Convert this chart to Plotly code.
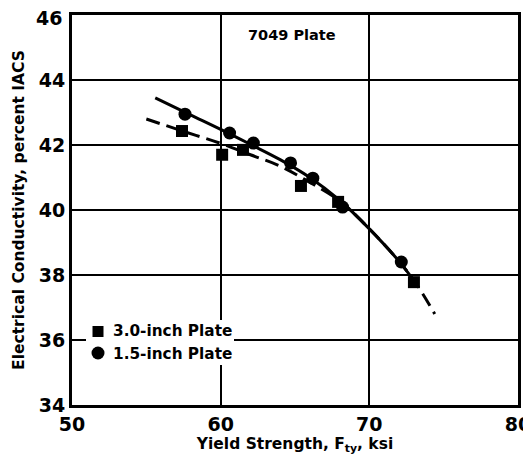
import plotly.graph_objects as go

# Data
sq_x = [57.4, 60.1, 61.5, 65.4, 67.9, 73.0]
sq_y = [42.43, 41.70, 41.85, 40.74, 40.25, 37.78]
ci_x = [57.6, 60.6, 62.2, 64.7, 66.2, 68.2, 72.15]
ci_y = [42.95, 42.37, 42.06, 41.45, 40.98, 40.09, 38.40]

solid_x = [55.6, 58.0, 60.0, 62.0, 64.0, 66.0, 68.0, 70.0, 72.0, 73.2]
solid_y = [43.45, 42.92, 42.48, 42.02, 41.55, 41.00, 40.30, 39.42, 38.42, 37.70]
dash_x = [55.0, 57.5, 60.0, 62.0, 64.0, 66.0, 68.0, 70.0, 72.0, 73.2, 74.4]
dash_y = [42.80, 42.42, 42.05, 41.70, 41.35, 40.85, 40.28, 39.42, 38.42, 37.70, 36.80]

x_ticks = [50, 60, 70, 80]
y_ticks = [34, 36, 38, 40, 42, 44, 46]
legend_names = ["3.0-inch Plate", "1.5-inch Plate"]

FONT = "DejaVu Sans"

# page body has an 8px margin, so the figure is sized to fit the window after it
OFF = 8
W, H = 531 - OFF, 456 - OFF
L, T = 72 - OFF, 15 - OFF
R = W - (518 - OFF)
B = H - (405 - OFF)
pw, ph = W - L - R, H - T - B
def px(xs):  # screen pixel -> paper
    return (xs - OFF - L) / pw
def py(ys):
    return (H - B - (ys - OFF)) / ph

fig = go.Figure()
fig.add_trace(go.Scatter(x=dash_x, y=dash_y, mode="lines", line=dict(color="black", width=3, dash="14px,7px", shape="spline"), showlegend=False))
fig.add_trace(go.Scatter(x=solid_x, y=solid_y, mode="lines", line=dict(color="black", width=3, shape="spline"), showlegend=False))
fig.add_trace(go.Scatter(x=sq_x, y=sq_y, mode="markers", name=legend_names[0], showlegend=False,
                         marker=dict(symbol="square", size=12, color="black")))
fig.add_trace(go.Scatter(x=ci_x, y=ci_y, mode="markers", name=legend_names[1], showlegend=False,
                         marker=dict(symbol="circle", size=13, color="black")))

fig.add_annotation(x=64.8, y=45.38, text="<b>7049 Plate</b>", showarrow=False,
                   font=dict(family=FONT, size=14.5, color="black"))

# Legend: white patch over the grid, markers and labels
fig.add_shape(type="rect", xref="paper", yref="paper", x0=px(86), x1=px(234), y0=py(365), y1=py(320),
              fillcolor="white", line=dict(width=0), layer="above")
fig.add_shape(type="rect", xref="paper", yref="paper", x0=px(92.5), x1=px(103.5), y0=py(337), y1=py(326),
              fillcolor="black", line=dict(width=0), layer="above")
fig.add_shape(type="circle", xref="paper", yref="paper", x0=px(91.5), x1=px(104.5), y0=py(359.5), y1=py(346.5),
              fillcolor="black", line=dict(width=0), layer="above")
for name, ys in zip(legend_names, [331, 354]):
    fig.add_annotation(xref="paper", yref="paper", x=px(111), y=py(ys), xanchor="left", yanchor="middle",
                       text=f"<b>{name}</b>", showarrow=False, font=dict(family=FONT, size=15.3, color="black"))

axis_common = dict(showline=True, linecolor="black", linewidth=3, mirror=True,
                   showgrid=True, gridcolor="black", gridwidth=2, zeroline=False, automargin=False,
                   ticklabeloverflow="allow",
                   ticks="", tickfont=dict(family=FONT, size=19, color="black"))

fig.update_xaxes(range=[50, 80], tickvals=x_ticks, ticktext=[f"<b>{v}</b>" for v in x_ticks],
                 title=dict(text="<b>Yield Strength, F<sub>ty</sub>, ksi</b>", font=dict(family=FONT, size=15.5, color="black"), standoff=2),
                 **axis_common)
# the top label (46) sits a little below its line in the reference, so it is placed as an annotation
fig.update_yaxes(range=[34, 46], tickvals=y_ticks[:-1], ticktext=[f"<b>{v}</b>" for v in y_ticks[:-1]],
                 title=dict(text="<b>Electrical Conductivity, percent IACS</b>", font=dict(family=FONT, size=15.5, color="black"), standoff=11),
                 **axis_common)
fig.add_annotation(xref="paper", yref="y", x=px(63.5), y=y_ticks[-1], xanchor="right", yanchor="middle",
                   yshift=-3, text=f"<b>{y_ticks[-1]}</b>", showarrow=False,
                   font=dict(family=FONT, size=19, color="black"))

fig.update_layout(
    width=W, height=H,
    margin=dict(l=L, r=R, t=T, b=B),
    paper_bgcolor="white", plot_bgcolor="white",
    font=dict(family=FONT, color="black"),
    showlegend=False,
)

fig.write_html("out.html")
